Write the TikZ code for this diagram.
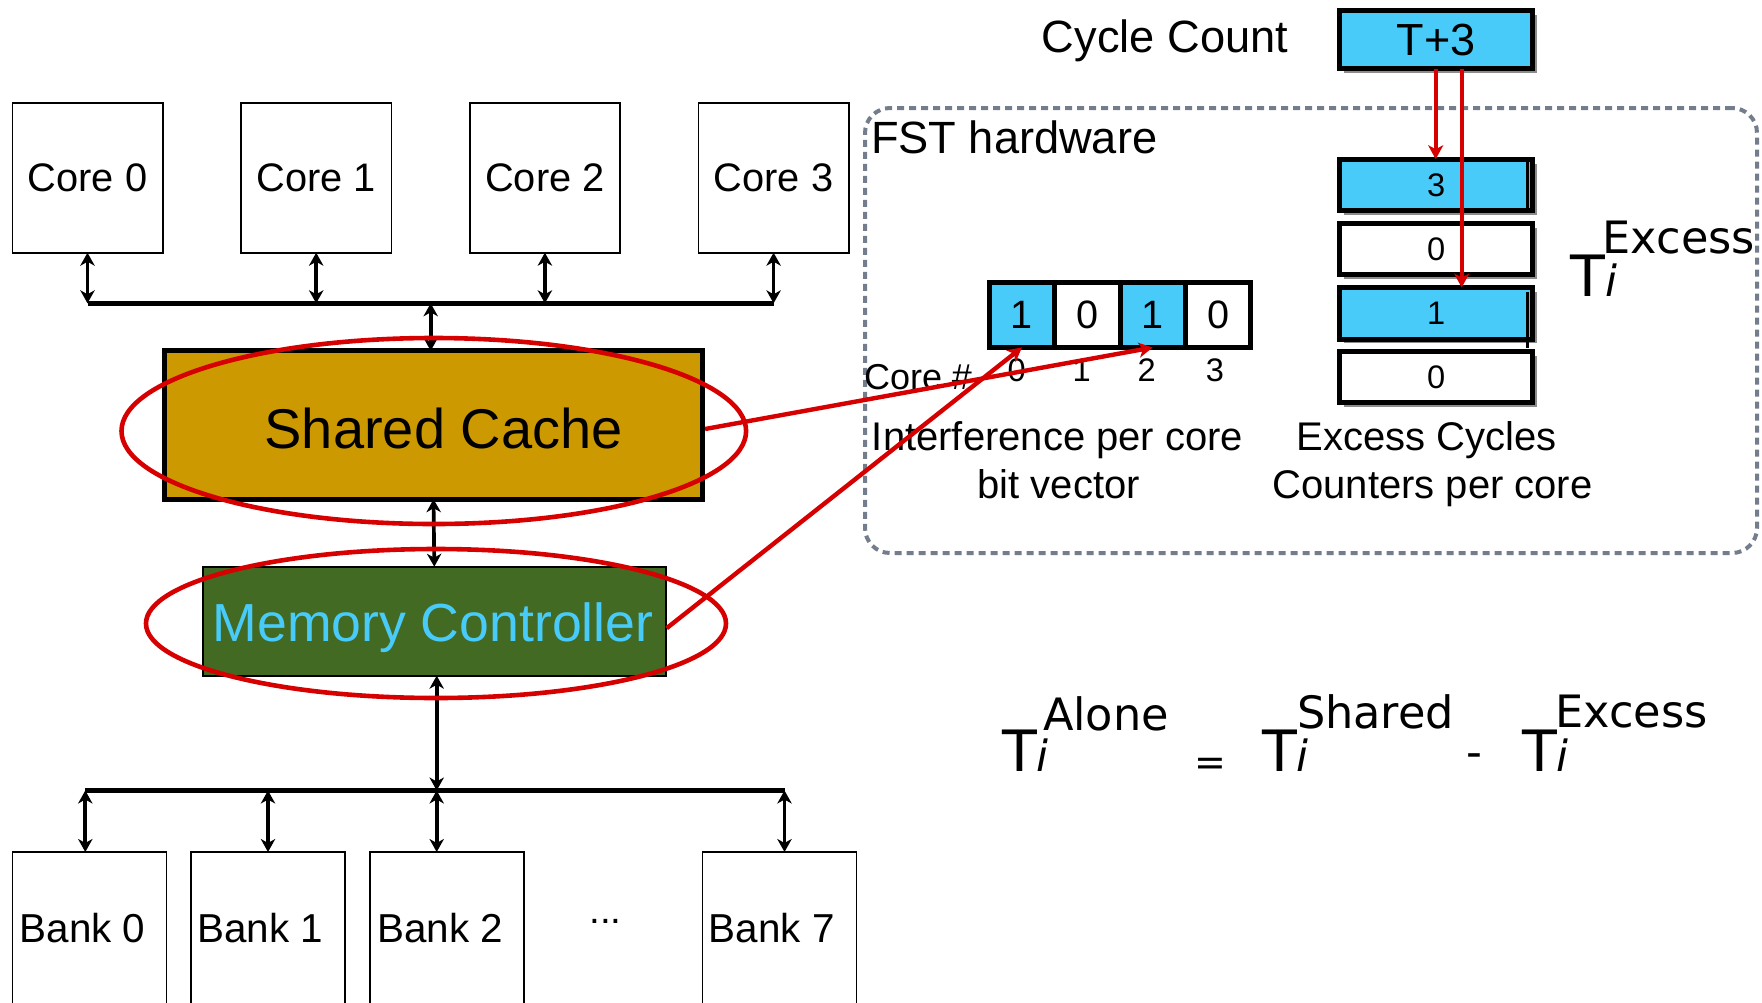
\documentclass[tikz,border=0pt]{standalone}
\usepackage{fontspec}
\setmainfont{Liberation Sans}
\newfontfamily\dejavu{DejaVu Sans}
\usetikzlibrary{arrows.meta,shadows}

\definecolor{cacheGold}{RGB}{204,153,0}
\definecolor{ctrlGreen}{RGB}{66,106,34}
\definecolor{regCyan}{RGB}{73,203,250}
\definecolor{hiRed}{RGB}{215,0,0}
\definecolor{frameGray}{RGB}{115,125,140}

\newcommand\fsz[1]{\fontsize{#1}{#1}\selectfont}

\begin{document}
\begin{tikzpicture}[x=0.5pt,y=-0.5pt,
  every node/.style={inner sep=0pt, outer sep=0pt},
  unitbox/.style={draw=black, line width=0.8pt, fill=white,
    minimum width=75.2pt, minimum height=75pt, font=\fsz{19.9pt}},
  bankbox/.style={draw=black, line width=0.8pt, fill=white,
    minimum width=77pt, minimum height=77pt},
  banklabel/.style={font=\fsz{20.2pt}, anchor=base west},
  biarrow/.style={line width=1.85pt, {Stealth[length=6.5pt,width=7.2pt,inset=2pt]}-{Stealth[length=6.5pt,width=7.2pt,inset=2pt]}},
  busline/.style={line width=2.5pt},
  redring/.style={draw=hiRed, line width=2.3pt},
  redarrow/.style={draw=hiRed, line width=2.2pt, -{Stealth[length=7pt,width=7.5pt,inset=2pt]}},
  bitcell/.style={draw=black, line width=2.5pt, minimum width=32.7pt,
    minimum height=32.5pt, font=\fsz{19.8pt}},
  regbox/.style={draw=black, line width=2.5pt, minimum width=96.35pt,
    drop shadow={shadow xshift=2.2pt, shadow yshift=-2.2pt, fill=black!45, opacity=1}},
  cntbox/.style={regbox, minimum height=25.75pt, font=\fsz{16.3pt}},
  digit/.style={font=\fsz{16.3pt}, anchor=base},
  caption/.style={font=\fsz{20pt}, anchor=base},
  bigT/.style={font=\dejavu\fsz{28.5pt}, anchor=base west},
  subi/.style={font=\dejavu\itshape\fsz{21.5pt}, anchor=base west},
  supword/.style={font=\dejavu\fsz{22.3pt}, anchor=base west}
]
\useasboundingbox (0,0) rectangle (1762,1002);

% ---------- FST hardware frame ----------
\node[draw=frameGray, line width=2pt, dash pattern=on 3.5pt off 2.5pt,
  rounded corners=12.5pt, minimum width=446pt, minimum height=222.5pt]
  (fstframe) at (1311,330.5) {};
\node[font=\fsz{22.6pt}, anchor=base west] (fstlabel) at (871,153.6) {FST hardware};

% ---------- cores and their bus ----------
\node[unitbox] (core0) at (87.5,177.7) {Core 0};
\node[unitbox] (core1) at (316.2,177.7) {Core 1};
\node[unitbox] (core2) at (544.9,177.7) {Core 2};
\node[unitbox] (core3) at (773.6,177.7) {Core 3};

\coordinate (cbus) at (430.7,303.3);
\draw[busline] (core0.south |- cbus) -- (core3.south |- cbus);
\foreach \c in {core0,core1,core2,core3}
  \draw[biarrow] (\c.south) -- (\c.south |- cbus);

% ---------- shared cache ----------
\node[draw=black, line width=2.5pt, fill=cacheGold, minimum width=269.1pt,
  minimum height=74.2pt] (cache) at (433.5,425) {};
\node[font=\fsz{28pt}, anchor=base] (cachetext) at (443.6,448.3) {Shared Cache};
\draw[biarrow] (cbus) -- (cbus |- cache.north);

% ---------- memory controller ----------
\node[draw=black, line width=1pt, fill=ctrlGreen, minimum width=231.35pt,
  minimum height=54.5pt] (mc) at (434.3,621.2) {};
\node[font=\fsz{26.8pt}, text=regCyan, anchor=base] (mctext) at (433,641.7) {Memory Controller};
\draw[biarrow] (cache.south) -- (mc.south |- mc.north);

% ---------- banks and their bus ----------
\node[bankbox] (bank0) at (89.5,929) {};
\node[bankbox] (bank1) at (267.7,929) {};
\node[bankbox] (bank2) at (447.2,929) {};
\node[bankbox] (bank7) at (779.5,929) {};
\node[banklabel] (bank0label) at (19.6,942.7) {Bank 0};
\node[banklabel] (bank1label) at (197.2,942.7) {Bank 1};
\node[banklabel] (bank2label) at (377.2,942.7) {Bank 2};
\node[banklabel] (bank7label) at (708.8,942.7) {Bank 7};
\node[font=\fsz{19.35pt}, anchor=base] (bankdots) at (605.5,923) {...};

\coordinate (bbus) at (436.7,790.5);
\draw[busline] (85.3,0 |- bbus) -- (784.5,0 |- bbus);
\draw[biarrow] (bbus |- mc.south) -- (bbus);
\draw[biarrow] (85.3,0 |- bbus) -- (85.3,0 |- bank0.north);
\draw[biarrow] (268,0 |- bbus) -- (268,0 |- bank1.north);
\draw[biarrow] (bbus) -- (bbus |- bank2.north);
\draw[biarrow] (784.5,0 |- bbus) -- (784.5,0 |- bank7.north);

% ---------- highlight rings ----------
\draw[redring] (433.8,431) ellipse [x radius=156.15pt, y radius=46.5pt];
\draw[redring] (436,623.5) ellipse [x radius=145pt, y radius=37.25pt];

% ---------- interference bit vector ----------
\node[bitcell, fill=regCyan] (b0) at (1021.9,315) {1};
\node[bitcell, fill=white]   (b1) at (1087.3,315) {0};
\node[bitcell, fill=regCyan] (b2) at (1152.7,315) {1};
\node[bitcell, fill=white]   (b3) at (1218.1,315) {0};
\node[digit] (d0) at (1016.7,381.7) {0};
\node[digit] (d1) at (1081.7,381.7) {1};
\node[digit] (d2) at (1146.7,381.7) {2};
\node[digit] (d3) at (1215,381.7) {3};
\node[font=\fsz{18pt}, anchor=base west] (corehash) at (864,389) {Core \#};
\node[caption] (bvcap1) at (1057.6,450) {Interference per core};
\node[caption] (bvcap2) at (1058.6,498) {bit vector};

% ---------- cycle count and excess counters ----------
\node[font=\fsz{22.6pt}, anchor=base] (cyclelabel) at (1165,52.5) {Cycle Count};
\node[regbox, fill=regCyan, minimum height=28.85pt, font=\fsz{22.5pt}]
  (cycle) at (1436.2,39.7) {T+3};
\node[cntbox, fill=regCyan] (cnt0) at (1436.2,185) {3};
\node[cntbox, fill=white]   (cnt1) at (1436.2,249) {0};
\node[cntbox, fill=regCyan] (cnt2) at (1436.2,313.3) {1};
\node[cntbox, fill=white]   (cnt3) at (1436.2,377) {0};
\draw[line width=1.1pt] (1527.5,0 |- cnt0.north) -- (1527.5,0 |- cnt0.south);
\draw[line width=1.1pt] (1527.5,291.7) -- (1527.5,348.3);
\node[caption] (cntcap1) at (1426.7,450.7) {Excess Cycles};
\node[caption] (cntcap2) at (1432.5,498) {Counters per core};

\draw[redarrow] (1435.7,0 |- cycle.south) -- (1435.7,0 |- cnt0.north);
\draw[redarrow] (1461.7,0 |- cycle.south) -- (1461.7,0 |- cnt2.north);

% T_i^Excess beside the counters
\node[bigT] (xsT) at (1570.6,296) {T};
\node[subi] (xsi) at (xsT.base east) {i};
\node[supword] (xssup) at (1602.7,253.6) {Excess};

% ---------- links into the bit vector ----------
\draw[redarrow] ([xshift=1.25pt,yshift=-2pt]cache.east) -- (b2.south);
\draw[redarrow] ([xshift=0.5pt,yshift=-3.5pt]mc.east) -- (b0.south);

% ---------- T_i^Alone = T_i^Shared - T_i^Excess ----------
\node[bigT] (aloneT) at (1002,771.7) {T};
\node[subi] (alonei) at (aloneT.base east) {i};
\node[supword] (alonesup) at (1043,730) {Alone};
\node[font=\dejavu\fsz{19pt}, anchor=base west] (eqsign) at (1194.8,775.8) {=};
\node[bigT] (sharedT) at (1262,771.7) {T};
\node[subi] (sharedi) at (sharedT.base east) {i};
\node[supword] (sharedsup) at (1297,728) {Shared};
\node[font=\dejavu\fsz{22pt}, anchor=base west] (minussign) at (1466,767.5) {-};
\node[bigT] (excessT) at (1522,771.7) {T};
\node[subi] (excessi) at (excessT.base east) {i};
\node[supword] (excesssup) at (1555.2,727) {Excess};
\end{tikzpicture}
\end{document}
